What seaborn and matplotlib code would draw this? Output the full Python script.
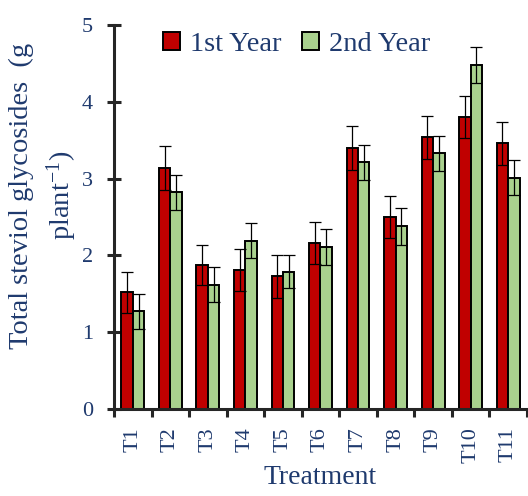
import matplotlib
matplotlib.use("Agg")
import matplotlib.pyplot as plt
from matplotlib.ticker import FixedLocator
import numpy as np
import pandas as pd
import seaborn as sns


# ==============================
# DATA
# ==============================

treatments = ["T1", "T2", "T3", "T4", "T5", "T6", "T7", "T8", "T9", "T10", "T11"]

year1 = [1.52, 3.14, 1.87, 1.81, 1.73, 2.16, 3.40, 2.50, 3.54, 3.80, 3.46]
year2 = [1.27, 2.82, 1.62, 2.19, 1.79, 2.11, 3.21, 2.38, 3.33, 4.48, 3.01]

year1_err = [0.27, 0.29, 0.26, 0.27, 0.28, 0.27, 0.29, 0.27, 0.28, 0.27, 0.28]
year2_err = [0.23, 0.23, 0.23, 0.23, 0.22, 0.23, 0.23, 0.24, 0.23, 0.24, 0.23]

series = ["1st Year", "2nd Year"]
colors = ["#C00000", "#A9D18E"]
text_color = "#1F3A6E"


# ==============================
# STYLE
# ==============================

sns.set_style("ticks")
plt.rcParams["font.family"] = ["Liberation Serif", "DejaVu Serif"]
plt.rcParams["mathtext.fontset"] = "custom"
plt.rcParams["mathtext.rm"] = "Liberation Serif"
plt.rcParams["mathtext.it"] = "Liberation Serif:italic"


# ==============================
# BAR CHART
# ==============================

df = pd.DataFrame({
    "Treatment": treatments * 2,
    "Year": [series[0]] * len(treatments) + [series[1]] * len(treatments),
    "Value": year1 + year2,
})

fig = plt.figure(figsize=(5.28, 4.96), dpi=100)
ax = fig.add_axes([0.216, 0.1754, 0.782, 0.7742])

sns.barplot(
    data=df,
    x="Treatment",
    y="Value",
    hue="Year",
    order=treatments,
    hue_order=series,
    palette=colors,
    width=0.61,
    errorbar=None,
    edgecolor="black",
    linewidth=1.4,
    saturation=1,
    ax=ax
)

# error bars from the drawn bars
for container, errs in zip(ax.containers, [year1_err, year2_err]):
    xs = [b.get_x() + b.get_width() / 2 for b in container]
    ys = [b.get_height() for b in container]
    ax.errorbar(
        xs, ys, yerr=errs,
        fmt="none",
        ecolor="black",
        elinewidth=0.9,
        capsize=4,
        capthick=0.9,
        zorder=5
    )

ax.set_ylim(0, 5)
ax.set_xlim(-0.5, len(treatments) - 0.5)
ax.set_yticks(range(0, 6))

# axes / spines
sns.despine(ax=ax)
for side in ["left", "bottom"]:
    ax.spines[side].set_linewidth(2.2)

ax.tick_params(
    axis="y", direction="inout", length=10, width=2.2,
    labelsize=16, labelcolor=text_color, pad=10
)
ax.xaxis.set_minor_locator(FixedLocator(np.arange(-0.5, len(treatments), 1)))
ax.tick_params(axis="x", which="minor", direction="out", length=6, width=2.2)
ax.tick_params(
    axis="x", which="major", length=0, labelsize=16,
    labelcolor=text_color, pad=13, labelrotation=90
)

ax.set_xlabel("Treatment", fontsize=20, color=text_color)
ax.xaxis.set_label_coords(0.5, -0.146)

ax.set_ylabel(
    "Total steviol glycosides  (g\nplant$^{-1}$)",
    fontsize=20.5,
    color=text_color,
    linespacing=1.4
)
ax.yaxis.set_label_coords(-0.085, 0.555)

ax.legend(
    loc="upper left",
    bbox_to_anchor=(0.09, 1.012),
    ncol=2,
    frameon=False,
    fontsize=20.5,
    labelcolor=text_color,
    handlelength=0.62,
    handleheight=0.62,
    handletextpad=0.35,
    columnspacing=0.7,
    borderaxespad=0
)

fig.savefig("out.png", dpi=100)
